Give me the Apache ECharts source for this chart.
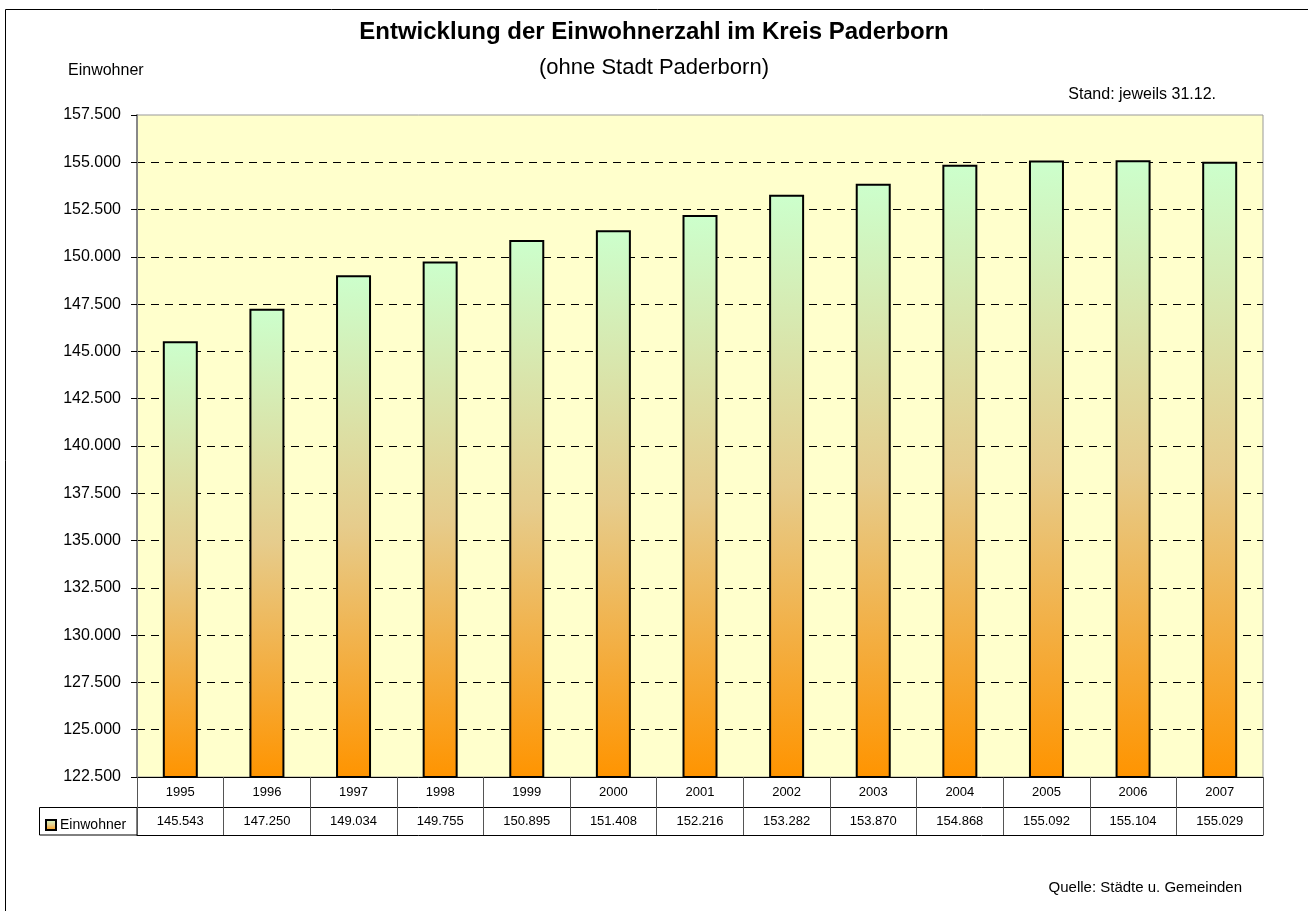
<!DOCTYPE html>
<html>
<head>
<meta charset="utf-8">
<script src="https://cdn.jsdelivr.net/npm/echarts@6/dist/echarts.min.js"></script>
<style>
  html, body { margin: 0; padding: 0; background: #fff; }
  #chart { width: 1308px; height: 911px; }
</style>
</head>
<body>
<div id="chart"></div>
<script>
// data
const years = ['1995', '1996', '1997', '1998', '1999', '2000', '2001',
  '2002', '2003', '2004', '2005', '2006', '2007'];
const einwohner = [145543, 147250, 149034, 149755, 150895, 151408, 152216,
  153282, 153870, 154868, 155092, 155104, 155029];
const yMin = 122500;
const yMax = 157500;
const yStep = 2500;

const FONT = 'Liberation Sans, Arial, sans-serif';

// 145543 -> "145.543"
function deNum(v) {
  return String(v).replace(/\B(?=(\d{3})+(?!\d))/g, '.');
}

const chart = echarts.init(document.getElementById('chart'));

const barFill = new echarts.graphic.LinearGradient(0, 0, 0, 1, [
  { offset: 0, color: '#ccffcc' },
  { offset: 0.5, color: '#e6cc8c' },
  { offset: 1, color: '#ff9400' }
]);

const option = {
  animation: false,
  backgroundColor: '#fff',
  textStyle: { fontFamily: FONT },
  title: {
    text: 'Entwicklung der Einwohnerzahl im Kreis Paderborn',
    subtext: '(ohne Stadt Paderborn)',
    left: 'center',
    top: 15,
    itemGap: 13,
    textStyle: { fontFamily: FONT, fontSize: 24, fontWeight: 'bold', color: '#000' },
    subtextStyle: { fontFamily: FONT, fontSize: 22, color: '#000' }
  },
  legend: {
    left: 45,
    top: 818,
    padding: 0,
    icon: 'rect',
    itemWidth: 10,
    itemHeight: 10,
    itemGap: 4,
    textStyle: { fontFamily: FONT, fontSize: 14, color: '#000', padding: [0, 0, 0, -1] },
    data: ['Einwohner']
  },
  grid: {
    left: 137,
    right: 45,
    top: 115,
    bottom: 134,
    show: true,
    backgroundColor: '#ffffcc',
    borderColor: '#999',
    borderWidth: 1
  },
  xAxis: [
    {
      type: 'category',
      data: years,
      position: 'bottom',
      axisLine: { show: true, lineStyle: { color: '#000', width: 1 } },
      axisTick: { show: true, interval: 0, length: 30, lineStyle: { color: '#555' } },
      axisLabel: { interval: 0, margin: 9, fontSize: 13, color: '#000', fontFamily: FONT },
      splitLine: { show: false }
    },
    {
      type: 'category',
      data: years,
      position: 'bottom',
      offset: 30,
      axisLine: { show: true, lineStyle: { color: '#000', width: 1 } },
      axisTick: { show: true, interval: 0, length: 28, lineStyle: { color: '#555' } },
      axisLabel: {
        interval: 0, margin: 8, fontSize: 13, color: '#000', fontFamily: FONT,
        formatter: function (val, idx) { return deNum(einwohner[idx]); }
      },
      splitLine: { show: false }
    },
    {
      type: 'category',
      data: years,
      position: 'bottom',
      offset: 58,
      axisLine: { show: true, lineStyle: { color: '#000', width: 1 } },
      axisTick: { show: false },
      axisLabel: { show: false }
    }
  ],
  yAxis: {
    type: 'value',
    min: yMin,
    max: yMax,
    interval: yStep,
    axisLine: { show: true, lineStyle: { color: '#888', width: 2 } },
    axisTick: { show: true, length: 6, inside: false, lineStyle: { color: '#000' } },
    axisLabel: {
      fontSize: 16, color: '#000', margin: 16, fontFamily: FONT,
      formatter: function (v) { return deNum(v); }
    },
    splitLine: {
      show: true,
      showMinLine: false,
      showMaxLine: false,
      lineStyle: { color: '#000', type: [8, 6], width: 1 }
    }
  },
  series: [
    {
      name: 'Einwohner',
      type: 'bar',
      data: einwohner,
      barWidth: 35,
      itemStyle: { color: barFill, borderColor: '#000', borderWidth: 2 }
    }
  ],
  graphic: [
    // outer chart frame (only left/top edge inside the picture)
    { type: 'rect', shape: { x: 5.5, y: 9.5, width: 1400, height: 1000 },
      style: { fill: 'none', stroke: '#000', lineWidth: 1 }, silent: true },
    // legend cell of the data table
    { type: 'rect', shape: { x: 39.5, y: 807.5, width: 97.5, height: 27.5 },
      style: { fill: 'none', stroke: '#000', lineWidth: 1 }, silent: true, z: -1 },
    { type: 'text', left: 68, top: 63,
      style: { text: 'Einwohner', font: '16px ' + FONT, fill: '#000' } },
    { type: 'text', right: 92, top: 87,
      style: { text: 'Stand: jeweils 31.12.', font: '16px ' + FONT, fill: '#000' } },
    { type: 'text', right: 66, top: 880,
      style: { text: 'Quelle: Städte u. Gemeinden', font: '15px ' + FONT, fill: '#000' } }
  ]
};

chart.setOption(option);
</script>
</body>
</html>
